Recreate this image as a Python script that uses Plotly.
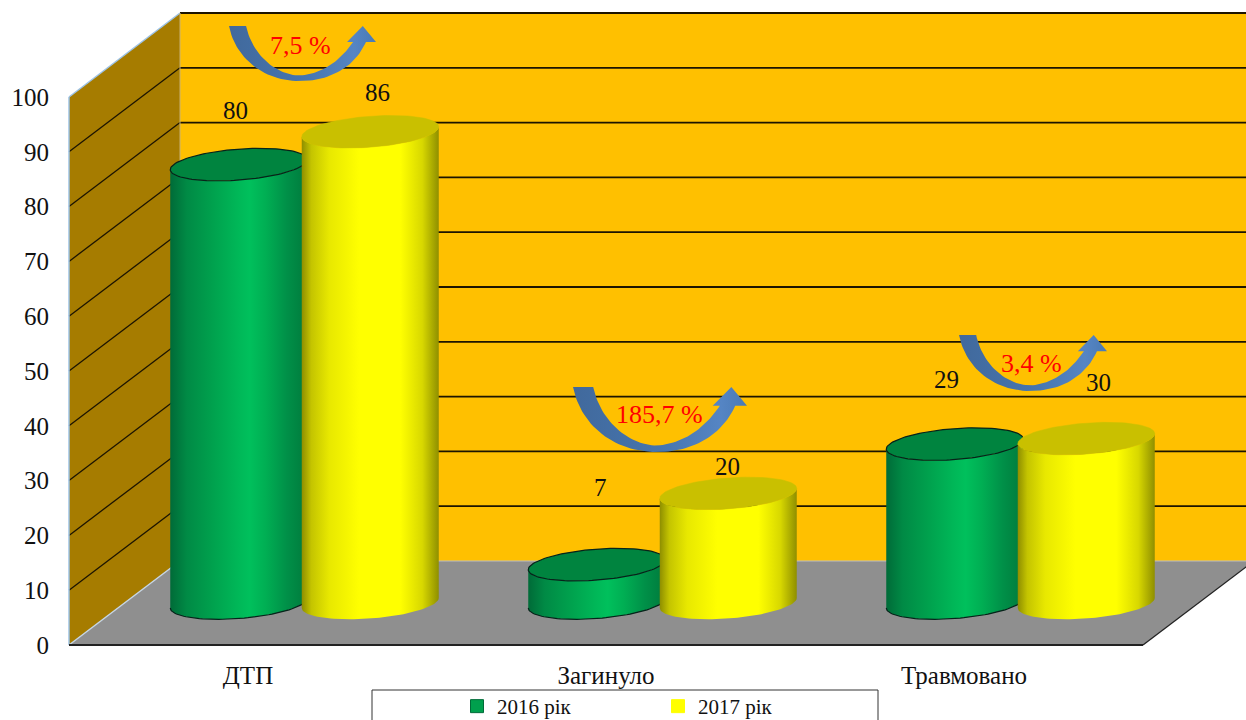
import numpy as np
import plotly.graph_objects as go

# ---- data ----
categories = ["ДТП", "Загинуло", "Травмовано"]
series_names = ["2016 рік", "2017 рік"]
values_2016 = [80, 7, 29]
values_2017 = [86, 20, 30]
y_ticks = [0, 10, 20, 30, 40, 50, 60, 70, 80, 90, 100]
changes = ["7,5 %", "185,7 %", "3,4 %"]

# ---- page / scale geometry ----
W, H = 1246, 720
PX_X, PX_Y = 358.0, 5.48          # pixels per category, pixels per value unit
X0, Y0 = 248.0, 645.0             # page position of category 0 / value 0
def dx(px): return (px - X0) / PX_X
def dy(py): return (Y0 - py) / PX_Y

DEPTH_X, DEPTH_Y = 111 / PX_X, 84 / PX_Y
XL, XR = -0.5, 2.5
XPAGE = dx(W + 12)

GREEN_STOPS = [[0, "#006B38"], [0.12, "#008A45"], [0.3, "#00A04D"], [0.5, "#00B858"],
               [0.58, "#00C05C"], [0.7, "#00AE53"], [0.85, "#009048"], [1, "#007A3C"]]
YELLOW_STOPS = [[0, "#8E8E00"], [0.07, "#C4C400"], [0.2, "#E8E800"], [0.42, "#FFFF00"],
                [0.72, "#FFFF00"], [0.88, "#D8D800"], [1, "#8F8F00"]]
ARROW_STOPS = [[0, "#41699C"], [0.5, "#4675AE"], [0.85, "#5585C4"], [1, "#4A7AB5"]]
FONT = "Liberation Serif"

fig = go.Figure()

# ---- walls and floor ----
shapes = []
def poly(pts, fill, line=None, width=0):
    path = "M " + " L ".join(f"{x:.5f},{y:.5f}" for x, y in pts) + " Z"
    shapes.append(dict(type="path", path=path, xref="x", yref="y", layer="below",
                       fillcolor=fill, line=dict(color=line or "rgba(0,0,0,0)", width=width)))
def seg(p, q, color, width):
    shapes.append(dict(type="line", x0=p[0], y0=p[1], x1=q[0], y1=q[1], xref="x", yref="y",
                       layer="below", line=dict(color=color, width=width)))

poly([(XL + DEPTH_X, DEPTH_Y), (XL + DEPTH_X, 100 + DEPTH_Y), (XPAGE, 100 + DEPTH_Y), (XPAGE, DEPTH_Y)], "#FFC000")
poly([(XL, 0), (XL + DEPTH_X, DEPTH_Y), (XL + DEPTH_X, 100 + DEPTH_Y), (XL, 100)], "#A67C00")
poly([(XL, 0), (XL + DEPTH_X, DEPTH_Y), (XPAGE, DEPTH_Y), (XR + DEPTH_X, DEPTH_Y), (XR, 0)], "#8F8F8F")

for v in y_ticks[1:]:
    seg((XL + DEPTH_X, v + DEPTH_Y), (XPAGE, v + DEPTH_Y), "#1C1400", 1.8)
    if v < 100:
        seg((XL, v), (XL + DEPTH_X, v + DEPTH_Y), "#1C1400", 1.3)
seg((XL, 0), (XL, 100), "#9DC3E6", 1.5)
seg((XL, 100), (XL + DEPTH_X, 100 + DEPTH_Y), "#9DC3E6", 1.5)
seg((XL, 0), (XL + DEPTH_X, DEPTH_Y), "#C5D5E5", 1.5)
seg((XL + DEPTH_X, DEPTH_Y), (XL + DEPTH_X, 100 + DEPTH_Y), "#C8B070", 1)
seg((XL + DEPTH_X, DEPTH_Y), (XPAGE, DEPTH_Y), "#BDBDBD", 1.2)
seg((XL, 0), (XR, 0), "#222222", 2)
seg((XR, 0), (XR + DEPTH_X, DEPTH_Y), "#222222", 1.3)

# legend frame (runs off the bottom of the page)
shapes.append(dict(type="rect", xref="x", yref="y", layer="below",
                   x0=dx(372), x1=dx(878), y0=dy(690), y1=dy(740),
                   line=dict(color="#333333", width=1), fillcolor="white"))

# ---- cylinders ----
OFFSET = 65.75 / PX_X
SHIFT = 56.5 / PX_X
A = 68.5 / PX_X
B = 15.5 / PX_Y
S = 5.0 / PX_Y
MID = DEPTH_Y / 2

def ell(cx, cy, t):
    return cx + A * np.cos(t), cy + S * np.cos(t) + B * np.sin(t)

def cylinder(i, value, side, stops, top_color, outline):
    cx = i + SHIFT + side * OFFSET
    base, top = MID, value + MID
    t_low = np.linspace(np.pi, 2 * np.pi, 60)
    bx, by = ell(cx, base, t_low)
    tx, ty = ell(cx, top, t_low[::-1])
    fig.add_trace(go.Scatter(x=np.r_[bx, tx], y=np.r_[by, ty], mode="lines", fill="toself",
                             line=dict(width=0), fillgradient=dict(type="horizontal", colorscale=stops),
                             hoverinfo="skip", showlegend=False))
    if outline:
        fig.add_trace(go.Scatter(x=bx, y=by, mode="lines", line=dict(color="#06231A", width=1.2),
                                 hoverinfo="skip", showlegend=False))
    t_all = np.linspace(0, 2 * np.pi, 120)
    ex, ey = ell(cx, top, t_all)
    fig.add_trace(go.Scatter(x=ex, y=ey, mode="lines", fill="toself", fillcolor=top_color,
                             line=dict(color="#06231A" if outline else top_color, width=1.2 if outline else 0.5),
                             hoverinfo="skip", showlegend=False))

for i in range(len(categories)):
    cylinder(i, values_2016[i], -1, GREEN_STOPS, "#00843F", True)
    cylinder(i, values_2017[i], 1, YELLOW_STOPS, "#C9C000", False)

# ---- curved change arrows ----
arrow_boxes = [(dx(229), dx(376), dy(26), dy(81)),
               (dx(573), dx(747), dy(387), dy(452)),
               (dx(959), dx(1107), dy(335), dy(391))]

def bez(p0, c1, c2, p1, n=30):
    t = np.linspace(0, 1, n)[:, None]
    p0, c1, c2, p1 = map(np.array, (p0, c1, c2, p1))
    return (1 - t) ** 3 * p0 + 3 * (1 - t) ** 2 * t * c1 + 3 * (1 - t) * t ** 2 * c2 + t ** 3 * p1

arrow_shape = np.vstack([
    bez((0, 0), (0.04, 0.55), (0.22, 1.0), (0.483, 1.0)),
    bez((0.483, 1.0), (0.70, 1.0), (0.86, 0.72), (0.932, 0.29)),
    [(1, 0.29), (0.91, 0), (0.803, 0.29)],
    bez((0.844, 0.29), (0.76, 0.62), (0.64, 0.87), (0.483, 0.90)),
    bez((0.483, 0.90), (0.33, 0.90), (0.16, 0.55), (0.116, 0)),
])
for x1, x2, y1, y2 in arrow_boxes:
    fig.add_trace(go.Scatter(x=x1 + arrow_shape[:, 0] * (x2 - x1), y=y1 + arrow_shape[:, 1] * (y2 - y1),
                             mode="lines", fill="toself", line=dict(width=0),
                             fillgradient=dict(type="horizontal", colorscale=ARROW_STOPS),
                             hoverinfo="skip", showlegend=False))

# ---- legend entries ----
for name, color in zip(series_names, ["#00A04D", "#FFFF00"]):
    fig.add_trace(go.Scatter(x=[None], y=[None], mode="markers", name=name,
                             marker=dict(symbol="square", size=13, color=color,
                                         line=dict(color="#006B38" if color == "#00A04D" else "#FFFF00", width=1))))

# ---- text ----
annotations = []
label_xy = [(235, 110), (377, 92), (600, 487), (727, 466), (946, 379), (1098, 382)]
label_text = [values_2016[0], values_2017[0], values_2016[1], values_2017[1], values_2016[2], values_2017[2]]
for (px, py), t in zip(label_xy, label_text):
    annotations.append(dict(x=dx(px), y=dy(py), text=str(t), showarrow=False, xanchor="center", yanchor="middle",
                            font=dict(family=FONT, size=25, color="#111111")))
for (px, py), t in zip([(300, 45), (659, 414), (1031, 363)], changes):
    annotations.append(dict(x=dx(px), y=dy(py), text=t, showarrow=False, xanchor="center", yanchor="middle",
                            font=dict(family=FONT, size=26, color="#FF0000")))

fig.update_layout(
    width=W, height=H, margin=dict(l=0, r=0, t=0, b=0, autoexpand=False),
    paper_bgcolor="white", plot_bgcolor="white",
    shapes=shapes, annotations=annotations,
    xaxis=dict(range=[dx(0), dx(W)], tickmode="array", tickvals=list(range(len(categories))), ticktext=categories,
               showgrid=False, zeroline=False, showline=False, ticks="", anchor="free",
               position=(H - Y0) / H, ticklabelstandoff=13, tickfont=dict(family=FONT, size=25, color="#111111")),
    yaxis=dict(range=[dy(H), dy(0)], tickmode="array", tickvals=y_ticks,
               showgrid=False, zeroline=False, showline=False, ticks="", anchor="free",
               position=69 / W, ticklabelstandoff=20, tickfont=dict(family=FONT, size=25, color="#111111")),
    legend=dict(orientation="h", x=457 / W, y=1 - 686 / H, xanchor="left", yanchor="top",
                bgcolor="rgba(0,0,0,0)", entrywidth=156, entrywidthmode="pixels", itemclick=False,
                font=dict(family=FONT, size=21, color="#111111")),
    showlegend=True,
)

fig.write_html("out.html", config={"displayModeBar": False},
               post_script="document.body.style.margin='0';")
